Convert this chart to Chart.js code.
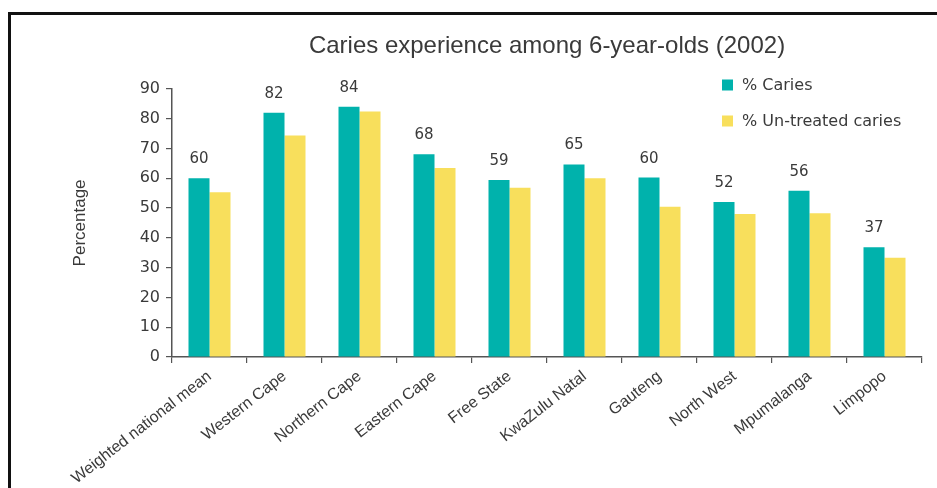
<!DOCTYPE html>
<html>
<head>
<meta charset="utf-8">
<script src="https://cdn.jsdelivr.net/npm/chart.js@4.4.1/dist/chart.umd.min.js"></script>
<style>
  html, body { margin: 0; padding: 0; background: #fff; overflow: hidden; }
  #frame { position: absolute; left: 8px; top: 12px; width: 1000px; height: 600px;
           border-top: 3px solid #111; border-left: 3px solid #111; }
  #chart { position: absolute; left: 0; top: 0; }
</style>
</head>
<body>
<div id="frame"></div>
<canvas id="chart" width="937" height="488"></canvas>
<script>
// Datos
const provincias = ['Weighted national mean', 'Western Cape', 'Northern Cape', 'Eastern Cape',
    'Free State', 'KwaZulu Natal', 'Gauteng', 'North West', 'Mpumalanga', 'Limpopo'];
const caries = [60, 82, 84, 68, 59.4, 64.6, 60.2, 52, 55.8, 36.8];
const cariesEtiquetas = [60, 82, 84, 68, 59, 65, 60, 52, 56, 37];
const sinTratar = [55.3, 74.3, 82.4, 63.4, 56.8, 60, 50.4, 48, 48.2, 33.3];
const yTicks = [0, 10, 20, 30, 40, 50, 60, 70, 80, 90];

const CYAN = '#00b2ac';
const AMARILLO = '#f8df5c';
const TEXTO = '#3a3a3a';

// Etiquetas de valor encima de las barras de caries
const etiquetasPlugin = {
    id: 'etiquetas',
    afterDatasetsDraw(chart) {
        const ctx = chart.ctx;
        const meta = chart.getDatasetMeta(0);
        ctx.save();
        ctx.font = '15px "DejaVu Sans"';
        ctx.fillStyle = TEXTO;
        ctx.textAlign = 'center';
        ctx.textBaseline = 'alphabetic';
        meta.data.forEach((bar, i) => {
            ctx.fillText(String(cariesEtiquetas[i]), bar.x, bar.y - 15);
        });
        ctx.restore();
    }
};

// Leyenda dentro del área del gráfico (arriba a la derecha)
const leyendaPlugin = {
    id: 'leyenda',
    afterDraw(chart) {
        const ctx = chart.ctx;
        const x = chart.chartArea.right - 200;
        ctx.save();
        ctx.font = '16px "DejaVu Sans"';
        ctx.textBaseline = 'middle';
        chart.data.datasets.forEach((ds, i) => {
            const y = 85 + i * 36;
            ctx.fillStyle = ds.backgroundColor;
            ctx.fillRect(x, y - 5.5, 11, 11);
            ctx.fillStyle = TEXTO;
            ctx.fillText(ds.label, x + 20, y + 1);
        });
        ctx.restore();
    }
};

new Chart(document.getElementById('chart').getContext('2d'), {
    type: 'bar',
    data: {
        labels: provincias,
        datasets: [
            { label: '% Caries', data: caries, backgroundColor: CYAN,
              categoryPercentage: 0.56, barPercentage: 1.0 },
            { label: '% Un-treated caries', data: sinTratar, backgroundColor: AMARILLO,
              categoryPercentage: 0.56, barPercentage: 1.0 }
        ]
    },
    options: {
        responsive: false,
        animation: false,
        layout: { padding: { left: 60, right: 15, top: 0, bottom: 0 } },
        plugins: {
            legend: { display: false },
            tooltip: { enabled: false },
            title: {
                display: true,
                fullSize: false,
                text: 'Caries experience among 6-year-olds (2002)',
                color: TEXTO,
                font: { family: '"Liberation Sans"', size: 24, weight: 'normal' },
                padding: { top: 32, bottom: 28 }
            }
        },
        scales: {
            x: {
                afterFit(scale) { scale.height = 131; },
                grid: { offset: true, drawOnChartArea: false, drawTicks: true,
                        tickLength: 6, color: '#555', lineWidth: 1.2 },
                border: { display: true, color: '#555', width: 1.5 },
                ticks: {
                    color: TEXTO, maxRotation: 38, minRotation: 38, padding: 4,
                    font: { family: '"Liberation Sans"', size: 16 }
                }
            },
            y: {
                min: 0, max: 90,
                afterFit(scale) { scale.width = 112; },
                afterBuildTicks(scale) { scale.ticks = yTicks.map(v => ({ value: v })); },
                grid: { drawOnChartArea: false, drawTicks: true, tickLength: 6,
                        color: '#555', lineWidth: 1.2 },
                border: { display: true, color: '#555', width: 1.5 },
                ticks: {
                    color: TEXTO, padding: 6,
                    font: { family: '"DejaVu Sans"', size: 16 }
                },
                title: {
                    display: true, text: 'Percentage', color: TEXTO,
                    font: { family: '"Liberation Sans"', size: 17 },
                    padding: { top: 10, bottom: 0 }
                }
            }
        }
    },
    plugins: [etiquetasPlugin, leyendaPlugin]
});
</script>
</body>
</html>
